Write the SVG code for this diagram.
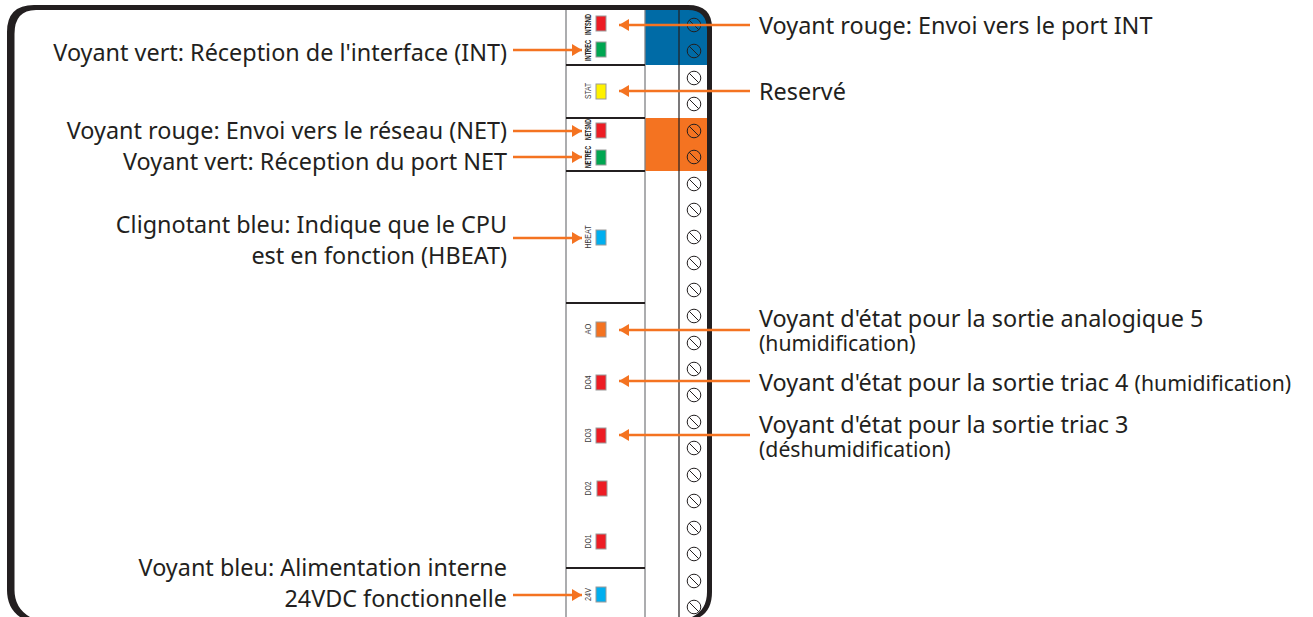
<svg xmlns="http://www.w3.org/2000/svg" width="1313" height="617" viewBox="0 0 1313 617">
<style>
text{font-family:"Noto Sans","Open Sans","Liberation Sans",sans-serif;fill:#231f20}
.l{font-size:23.400px}
.e{text-anchor:end}
.s{font-size:21.200px}
.t{font-size:8.500px;font-family:"Liberation Sans",Arial,sans-serif;text-anchor:middle;fill:#3c3c3c}
.b{font-weight:bold;fill:#222}
.led{stroke:#9a9a9a;stroke-width:1}
.scr circle{fill:none;stroke:#231f20;stroke-width:1}
.scr line{stroke:#231f20;stroke-width:1}
.c{fill:none;stroke:#f47321;stroke-width:2.600}
.dv{stroke:#231f20;stroke-width:1.800}
</style>
<defs>
<marker id="a" markerUnits="userSpaceOnUse" markerWidth="11" markerHeight="13" refX="10" refY="6.500" orient="auto"><path d="M0 0.500L10 6.500L0 12.500Z" fill="#f47321"/></marker>
<g id="sc" class="scr"><circle r="6.800"/><line x1="-4.800" y1="-4.800" x2="4.800" y2="4.800"/></g>
</defs>
<rect width="1313" height="617" fill="#fff"/>
<g id="panel">
<path d="M645 7H688Q709 7 709 28V65H645Z" fill="#006ba6"/>
<rect x="645" y="118" width="62" height="53" fill="#f47321"/>
<path d="M566 8V617M645 8V617" fill="none" stroke="#808285" stroke-width="1.300"/>
<path d="M679 8V617" fill="none" stroke="#231f20" stroke-width="1.200"/>
<path class="dv" d="M566 65H645M566 118H645M566 171H645M566 303H645M566 568H645"/>
<path d="M20 617Q7 608 7 590V32Q7 5 34 5H688Q712 5 712 28V592Q712 610 700 617H692Q707 610 707 592V30Q707 10 688 10H36Q14.500 10 14.500 34V590Q14.500 608 30 617Z" fill="#231f20"/>
</g>
<g id="screws">
<use href="#sc" x="694" y="25"/><use href="#sc" x="694" y="51"/><use href="#sc" x="694" y="78"/><use href="#sc" x="694" y="104"/><use href="#sc" x="694" y="131"/><use href="#sc" x="694" y="157"/><use href="#sc" x="694" y="184"/><use href="#sc" x="694" y="210"/><use href="#sc" x="694" y="237"/><use href="#sc" x="694" y="263"/><use href="#sc" x="694" y="290"/><use href="#sc" x="694" y="316"/><use href="#sc" x="694" y="343"/><use href="#sc" x="694" y="369"/><use href="#sc" x="694" y="395"/><use href="#sc" x="694" y="422"/><use href="#sc" x="694" y="448"/><use href="#sc" x="694" y="475"/><use href="#sc" x="694" y="501"/><use href="#sc" x="694" y="528"/><use href="#sc" x="694" y="554"/><use href="#sc" x="694" y="581"/><use href="#sc" x="694" y="607"/>
</g>
<g id="led-intsnd"><rect class="led" x="596" y="16" width="10" height="15" fill="#ed1c24"/><text class="t b" textLength="21" lengthAdjust="spacingAndGlyphs" transform="translate(591 24.500) rotate(-90)">INTSND</text></g>
<g id="led-intrec"><rect class="led" x="596" y="42" width="10" height="15" fill="#00a651"/><text class="t b" textLength="21" lengthAdjust="spacingAndGlyphs" transform="translate(591 50.500) rotate(-90)">INTREC</text></g>
<g id="led-stat"><rect class="led" x="596" y="84" width="10" height="15" fill="#fff200"/><text class="t" textLength="16" lengthAdjust="spacingAndGlyphs" transform="translate(591 91) rotate(-90)">STAT</text></g>
<g id="led-netsnd"><rect class="led" x="596" y="123" width="10" height="15" fill="#ed1c24"/><text class="t b" textLength="21" lengthAdjust="spacingAndGlyphs" transform="translate(591 129.500) rotate(-90)">NETSND</text></g>
<g id="led-netrec"><rect class="led" x="596" y="150" width="10" height="15" fill="#00a651"/><text class="t b" textLength="22" lengthAdjust="spacingAndGlyphs" transform="translate(591 157) rotate(-90)">NETREC</text></g>
<g id="led-hbeat"><rect class="led" x="596" y="230" width="10" height="15" fill="#00aeef"/><text class="t" textLength="23" lengthAdjust="spacingAndGlyphs" transform="translate(591 237) rotate(-90)">HBEAT</text></g>
<g id="led-ao"><rect class="led" x="596" y="322" width="10" height="15" fill="#f47321"/><text class="t" textLength="11" lengthAdjust="spacingAndGlyphs" transform="translate(591 329) rotate(-90)">AO</text></g>
<g id="led-do4"><rect class="led" x="596" y="375" width="10" height="15" fill="#ed1c24"/><text class="t" textLength="14" lengthAdjust="spacingAndGlyphs" transform="translate(591 382.500) rotate(-90)">DO4</text></g>
<g id="led-do3"><rect class="led" x="596" y="428" width="10" height="15" fill="#ed1c24"/><text class="t" textLength="14" lengthAdjust="spacingAndGlyphs" transform="translate(591 435.500) rotate(-90)">DO3</text></g>
<g id="led-do2"><rect class="led" x="597" y="481" width="10" height="15" fill="#ed1c24"/><text class="t" textLength="14" lengthAdjust="spacingAndGlyphs" transform="translate(591 488.500) rotate(-90)">DO2</text></g>
<g id="led-do1"><rect class="led" x="596" y="534" width="10" height="15" fill="#ed1c24"/><text class="t" textLength="14" lengthAdjust="spacingAndGlyphs" transform="translate(591 541.500) rotate(-90)">DO1</text></g>
<g id="led-24v"><rect class="led" x="596" y="587" width="10" height="15" fill="#00aeef"/><text class="t" textLength="13" lengthAdjust="spacingAndGlyphs" transform="translate(591 594.500) rotate(-90)">24V</text></g>
<g id="connectors">
<path class="c" marker-end="url(#a)" d="M750 25H619"/>
<path class="c" marker-end="url(#a)" d="M750 91H619"/>
<path class="c" marker-end="url(#a)" d="M750 330H619"/>
<path class="c" marker-end="url(#a)" d="M750 381H619"/>
<path class="c" marker-end="url(#a)" d="M750 435H619"/>
<path class="c" marker-end="url(#a)" d="M513 50H582"/>
<path class="c" marker-end="url(#a)" d="M513 131H582"/>
<path class="c" marker-end="url(#a)" d="M513 157H582"/>
<path class="c" marker-end="url(#a)" d="M513 238H582"/>
<path class="c" marker-end="url(#a)" d="M513 595H582"/>
</g>
<g id="labels">
<text class="l e" x="507" y="61">Voyant vert: Réception de l'interface (INT)</text>
<text class="l e" x="507" y="139">Voyant rouge: Envoi vers le réseau (NET)</text>
<text class="l e" x="507" y="170">Voyant vert: Réception du port NET</text>
<text class="l e" x="507" y="233">Clignotant bleu: Indique que le CPU</text>
<text class="l e" x="507" y="264">est en fonction (HBEAT)</text>
<text class="l e" x="507" y="576">Voyant bleu: Alimentation interne</text>
<text class="l e" x="507" y="607">24VDC fonctionnelle</text>
<text class="l" x="759" y="34">Voyant rouge: Envoi vers le port INT</text>
<text class="l" x="759" y="100">Reservé</text>
<text class="l" x="759" y="327">Voyant d'état pour la sortie analogique 5</text>
<text class="s" x="759" y="351">(humidification)</text>
<text class="l" x="759" y="391">Voyant d'état pour la sortie triac 4 <tspan class="s">(humidification)</tspan></text>
<text class="l" x="759" y="433">Voyant d'état pour la sortie triac 3</text>
<text class="s" x="759" y="457">(déshumidification)</text>
</g>
</svg>
